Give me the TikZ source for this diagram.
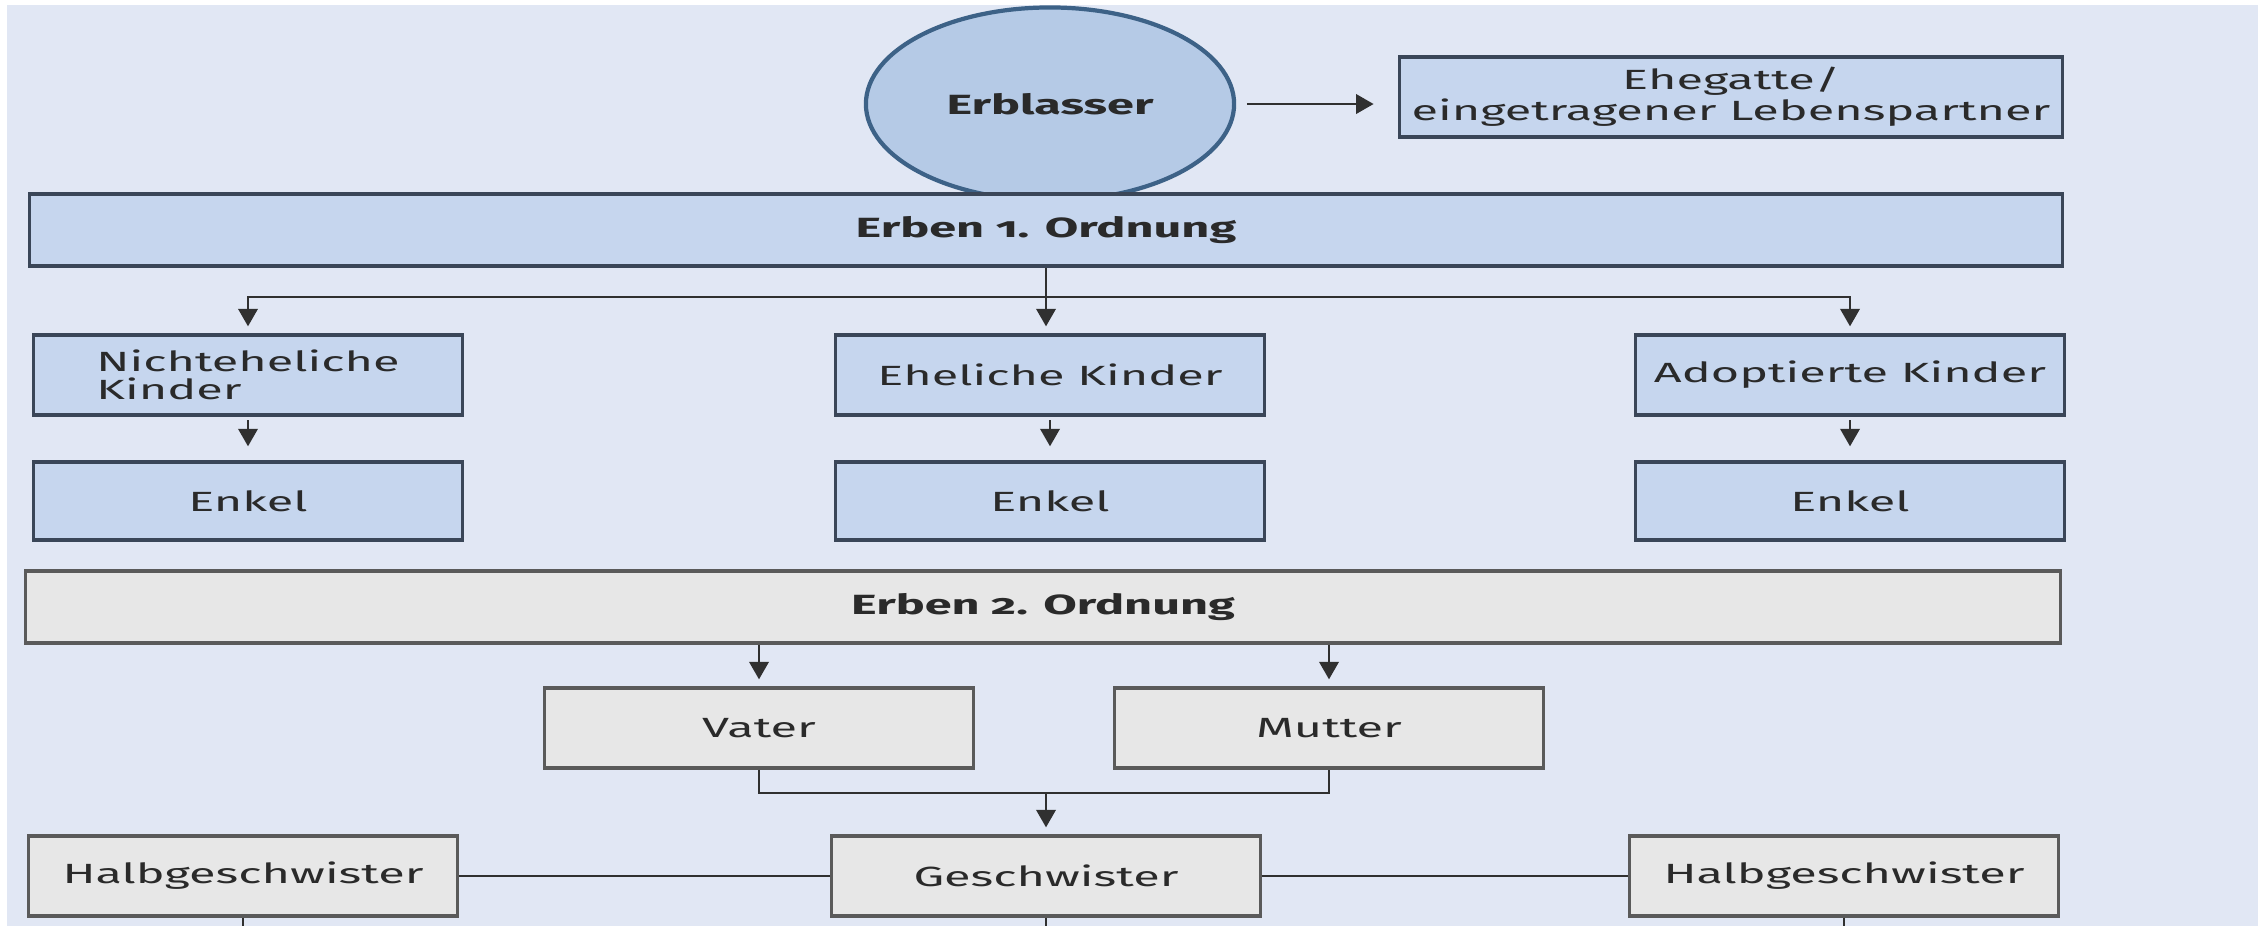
\documentclass[tikz,border=0pt]{standalone}
\usepackage{fontspec}
\setmainfont{Fira Sans}[Numbers=OldStyle,FakeStretch=1.75]
\usepackage{xcolor}
\usetikzlibrary{arrows.meta}
\usetikzlibrary{positioning}
\usetikzlibrary{shapes.geometric}

\definecolor{grundblau}{HTML}{E1E7F4}
\definecolor{kastenblau}{HTML}{C6D6EE}
\definecolor{kreisblau}{HTML}{B5CAE6}
\definecolor{kreisrand}{HTML}{3D6287}
\definecolor{kastengrau}{HTML}{E7E7E7}
\definecolor{randdunkel}{HTML}{3A4658}
\definecolor{randgrau}{HTML}{5A5A5A}
\definecolor{strich}{HTML}{303030}
\definecolor{schrift}{HTML}{2A2A2A}

\tikzset{
  kasten/.style={line width=0.9pt, inner sep=0pt, minimum width=4.28cm,
    minimum height=0.8cm, text=schrift, align=center,
    font=\fontsize{7.9}{7.8}\selectfont},
  blau/.style={kasten, draw=randdunkel, fill=kastenblau},
  grau/.style={kasten, draw=randgrau, fill=kastengrau},
  balken/.style={minimum height=0.72cm, font=\fontsize{7.9}{7.8}\selectfont\bfseries},
  pfeil/.style={draw=strich, line width=0.8pt, -{Triangle[length=5pt,width=5.5pt]}, shorten >=2pt},
  verbinder/.style={draw=strich, line width=0.8pt}
}

\begin{document}
\begin{tikzpicture}[x=0.01cm,y=-0.01cm]
  \useasboundingbox (0,0) rectangle (2267,926);
  \fill[white] (0,0) rectangle (2267,926);
  \fill[grundblau] (7,5) rectangle (2258,926);

  % Erblasser und Ehegatte
  \node[ellipse, draw=kreisrand, fill=kreisblau, line width=1.2pt, inner sep=0pt,
    minimum width=3.68cm, minimum height=1.93cm, text=schrift,
    font=\fontsize{7.9}{7.8}\selectfont\bfseries] (erblasser) at (1050,104) {Erblasser};
  \node[blau, minimum width=6.62cm] (ehegatte) at (1731,97) {Ehegatte/\\eingetragener Lebenspartner};

  % Erben 1. Ordnung
  \node[blau, balken, minimum width=20.31cm] (ordnungEins) at (1046,230) {Erben 1. Ordnung};
  \node[blau, align=left] (nichtehelich) at (248,375) {Nichteheliche\\Kinder};
  \node[blau] (ehelich) at (1050,375) {Eheliche Kinder};
  \node[blau] (adoptiert) at (1850,375) {Adoptierte Kinder};
  \node[blau, minimum height=0.78cm] (enkelA) at (248,501) {Enkel};
  \node[blau, minimum height=0.78cm] (enkelB) at (1050,501) {Enkel};
  \node[blau, minimum height=0.78cm] (enkelC) at (1850,501) {Enkel};

  % Erben 2. Ordnung
  \node[grau, balken, minimum width=20.34cm] (ordnungZwei) at (1043,607) {Erben 2. Ordnung};
  \node[grau] (vater) at (759,728) {Vater};
  \node[grau] (mutter) at (1329,728) {Mutter};
  \node[grau] (geschwister) at (1046,876) {Geschwister};
  \node[grau] (halbLinks) at (243,876) {Halbgeschwister};
  \node[grau] (halbRechts) at (1844,876) {Halbgeschwister};

  \coordinate (verteiler) at (1046,297);
  \coordinate (eltern) at (1046,793);
  \coordinate (unten) at (0,926);

  % Verbindungen
  \draw[pfeil, shorten <=3pt, shorten >=7pt] (erblasser.east) -- (erblasser.east -| ehegatte.west);
  \draw[pfeil] (ordnungEins.south) -- (ordnungEins.south |- ehelich.north);
  \draw[pfeil] (verteiler) -| (nichtehelich.north);
  \draw[pfeil] (verteiler) -| (adoptiert.north);
  \foreach \kind/\enkel in {nichtehelich/enkelA, ehelich/enkelB, adoptiert/enkelC}
    \draw[pfeil, shorten <=1pt, shorten >=4pt] (\kind.south) -- (\enkel.north);

  \foreach \elter in {vater, mutter}
    \draw[pfeil] (\elter.north |- ordnungZwei.south) -- (\elter.north);
  \draw[verbinder] (vater.south) |- (eltern) -| (mutter.south);
  \draw[pfeil] (eltern) -- (geschwister.north);
  \draw[verbinder] (halbLinks.east) -- (geschwister.west);
  \draw[verbinder] (geschwister.east) -- (halbRechts.west);
  \foreach \g in {halbLinks, geschwister, halbRechts}
    \draw[verbinder] (\g.south) -- (\g.south |- unten);% nach unten offen
\end{tikzpicture}
\end{document}
